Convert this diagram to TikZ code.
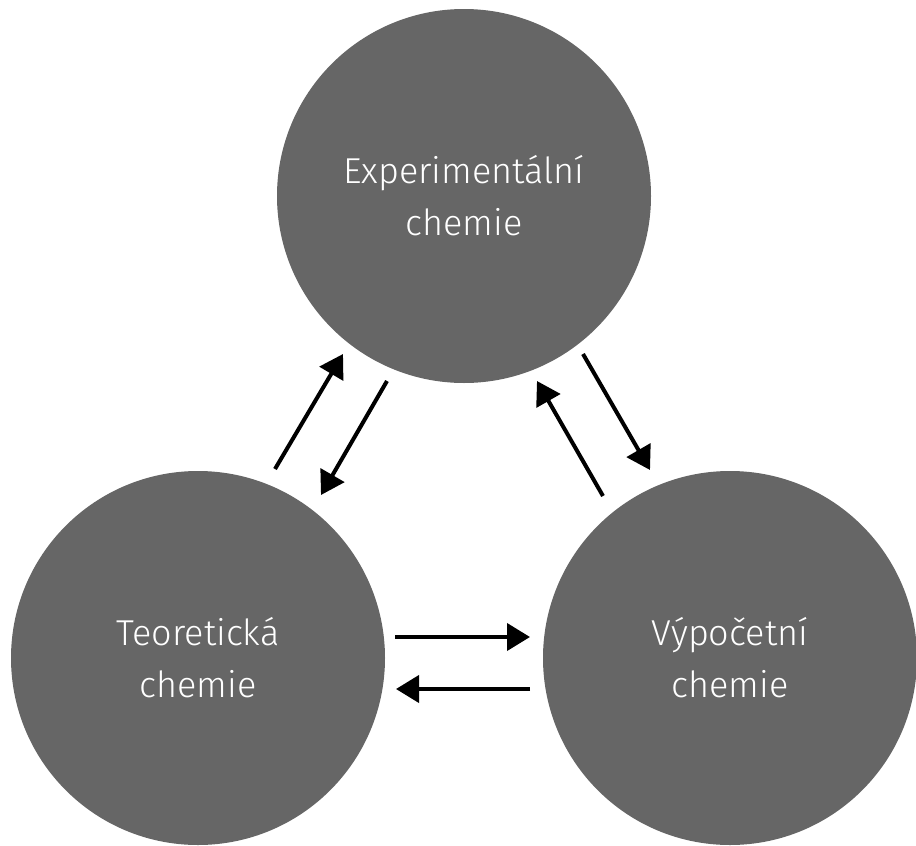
\documentclass[tikz,border=0pt]{standalone}
\usepackage{fontspec}
\setmainfont{Fira Sans Light}
\usetikzlibrary{arrows.meta}
\definecolor{discgrey}{HTML}{666666}
\begin{document}
\begin{tikzpicture}[x=1pt,y=-1pt,
  disc/.style={circle,fill=discgrey,minimum size=374pt,inner sep=0pt,
    text=white,font=\fontsize{36}{52}\selectfont,align=center},
  link/.style={line width=4pt,-{Triangle[length=23pt,width=27pt]}}]
\useasboundingbox (0,0) rectangle (916,846);
\node[disc] (exp) at (464,196) {Experimentální\\chemie};
\node[disc] (teo) at (198,658) {Teoretická\\chemie};
\node[disc] (vyp) at (730,658) {Výpočetní\\chemie};
\coordinate (a1s) at (275,469); \coordinate (a1e) at (343,354);
\coordinate (a2s) at (387,381); \coordinate (a2e) at (321,495);
\coordinate (a3s) at (603,496); \coordinate (a3e) at (537,381);
\coordinate (a4s) at (583,354); \coordinate (a4e) at (650,470);
\coordinate (a5s) at (395,637); \coordinate (a5e) at (530,637);
\coordinate (a6s) at (530,689); \coordinate (a6e) at (396,689);
\draw[link] (a1s) -- (a1e);
\draw[link] (a2s) -- (a2e);
\draw[link] (a3s) -- (a3e);
\draw[link] (a4s) -- (a4e);
\draw[link] (a5s) -- (a5e);
\draw[link] (a6s) -- (a6e);
\end{tikzpicture}
\end{document}
